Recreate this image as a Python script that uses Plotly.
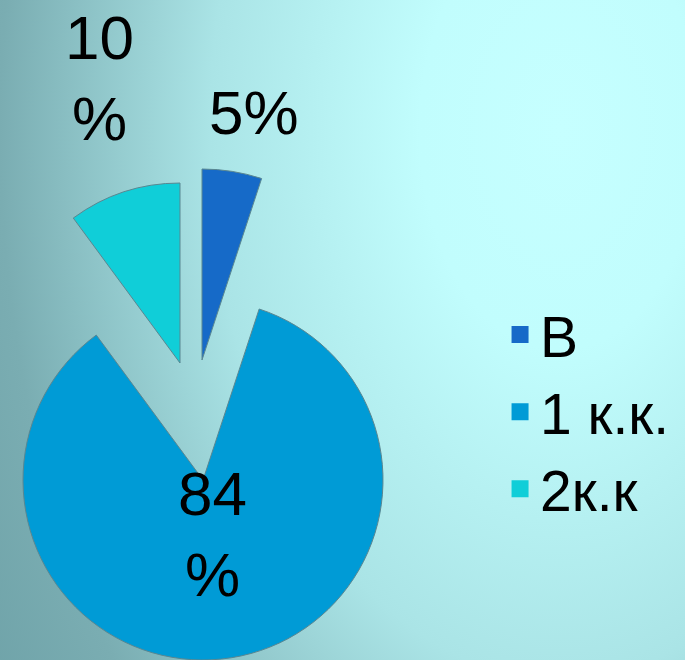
import base64
import plotly.graph_objects as go

# ---- data ----
categories = ["В", "1 к.к.", "2к.к"]
shares = [5, 84, 10]
share_labels = ["5%", "84<br>%", "10<br>%"]
colors = ["#166ac8", "#009bd6", "#10ced8"]
edge = "#5a8791"
clear = "rgba(0,0,0,0)"

W, H = 685, 660

fig = go.Figure()

# legend provider: a tiny pie hidden underneath the big slice (drawn first)
fig.add_trace(go.Pie(
    labels=categories, values=shares, sort=False, direction="clockwise",
    marker=dict(colors=colors, line=dict(color=colors, width=5)),
    textinfo="none", showlegend=True, hoverinfo="skip",
    domain=dict(x=[300 / W, 301 / W], y=[1 - 561 / H, 1 - 560 / H]),
))

# each slice drawn by its own pie trace (exploded layout); box = (left, top, size) in px
slice_boxes = {
    0: (11, 169, 382),
    1: (23, 300, 360),
    2: (0, 183, 360),
}
for i, (l, t, s) in slice_boxes.items():
    cols = [colors[j] if j == i else clear for j in range(len(categories))]
    lcols = [edge if j == i else clear for j in range(len(categories))]
    fig.add_trace(go.Pie(
        labels=categories, values=shares, sort=False, direction="clockwise", rotation=0,
        marker=dict(colors=cols, line=dict(color=lcols, width=1)),
        textinfo="none", hoverinfo="label+value", showlegend=False,
        domain=dict(x=[l / W, (l + s) / W], y=[1 - (t + s) / H, 1 - t / H]),
    ))

# (x centre px, y px, anchor)
label_pos = [(254, 113, "middle"), (212, 534, "middle"), (99, 1, "top")]
for txt, (px, py, ya) in zip(share_labels, label_pos):
    fig.add_annotation(text=txt, x=px / W, y=1 - py / H, xref="paper", yref="paper",
                       showarrow=False, xanchor="center", yanchor=ya,
                       font=dict(family="Liberation Sans, Arial, sans-serif", size=62, color="black"))

svg = f'''<svg xmlns="http://www.w3.org/2000/svg" width="{W}" height="{H}" viewBox="0 0 {W} {H}" preserveAspectRatio="none">
<defs><radialGradient id="g" gradientUnits="userSpaceOnUse" cx="560" cy="130" r="700" gradientTransform="translate(560 130) scale(1 1.57) translate(-560 -130)">
<stop offset="0" stop-color="#c6ffff"/>
<stop offset="0.2" stop-color="#c1fdfd"/>
<stop offset="0.5" stop-color="#aae4e6"/>
<stop offset="0.8" stop-color="#7aadb2"/>
<stop offset="1" stop-color="#6ca0a6"/>
</radialGradient></defs>
<rect width="{W}" height="{H}" fill="url(#g)"/></svg>'''
src = "data:image/svg+xml;base64," + base64.b64encode(svg.encode()).decode()

fig.update_layout(
    width=W, height=H,
    margin=dict(l=0, r=0, t=0, b=0),
    paper_bgcolor="#a8dfe2", plot_bgcolor="rgba(0,0,0,0)",
    images=[dict(source=src, xref="paper", yref="paper", x=0, y=1, sizex=1, sizey=1,
                 xanchor="left", yanchor="top", sizing="stretch", layer="below")],
    legend=dict(x=0.73, y=1 - 412 / H, xanchor="left", yanchor="middle",
                bgcolor="rgba(0,0,0,0)", borderwidth=0,
                font=dict(family="Liberation Sans, Arial, sans-serif", size=57, color="black")),
)

fig.write_html("out.html", config={"displayModeBar": False},
               post_script="document.body.style.margin='0';document.body.style.overflow='hidden';")
